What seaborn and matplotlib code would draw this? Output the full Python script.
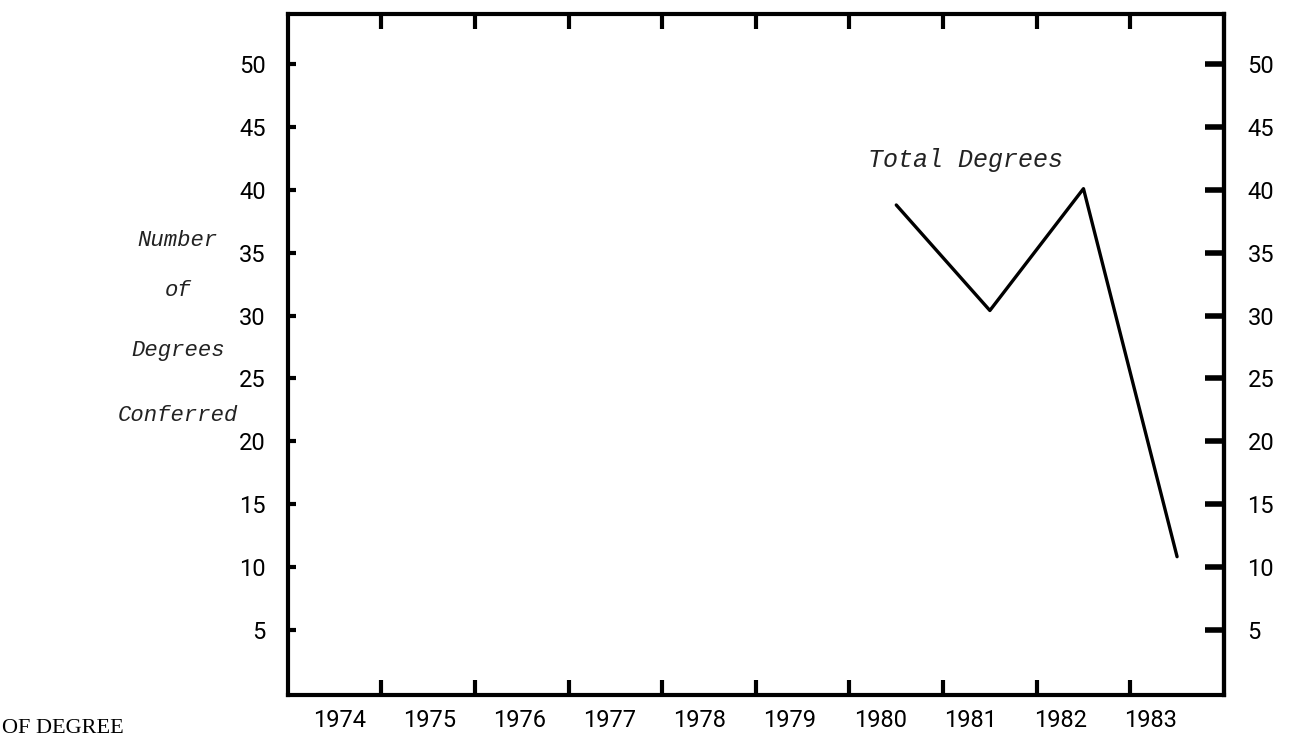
import matplotlib
matplotlib.use("Agg")
import numpy as np
import pandas as pd
import matplotlib.pyplot as plt
import seaborn as sns

# values
years = [1980, 1981, 1982, 1983]
total_degrees = [38.8, 30.4, 40.1, 10.8]
axis_years = list(range(1974, 1984))
y_ticks = [5, 10, 15, 20, 25, 30, 35, 40, 45, 50]
ylabel_lines = ["Number", "of", "Degrees", "Conferred"]

sns.set_theme(style="ticks")
plt.rcParams["font.family"] = ["Roboto", "DejaVu Sans"]

W, H = 1291, 740
fig = plt.figure(figsize=(W / 100, H / 100), dpi=100)
ax = fig.add_axes([0.223, 0.061, 0.725, 0.92])

# each year is an interval [year, year+1]; points sit in its middle
df = pd.DataFrame({"year": np.array(years) + 0.5, "degrees": total_degrees})
sns.lineplot(data=df, x="year", y="degrees", color="black", linewidth=2.4, ax=ax)

ax.set_xlim(axis_years[0], axis_years[-1] + 1)
ax.set_ylim(-0.2, 54.0)
ax.set_xlabel("")
ax.set_ylabel("")

for side in ["left", "right", "top", "bottom"]:
    ax.spines[side].set_linewidth(3)
    ax.spines[side].set_color("black")

# year boundaries as ticks, year names centred between them
ax.set_xticks(axis_years[1:])
ax.set_xticklabels([])
ax.tick_params(axis="x", which="major", direction="in", length=11, width=3,
               top=True, bottom=True, color="black")
label_pos = axis_years[0] + 0.55 + (np.array(axis_years) - axis_years[0]) * 0.963
ax.set_xticks(label_pos, minor=True)
ax.set_xticklabels([str(y) for y in axis_years], minor=True)
ax.tick_params(axis="x", which="minor", length=0, pad=10, labelsize=17,
               labelcolor="black")

ax.set_yticks(y_ticks)
ax.set_yticklabels([str(v) for v in y_ticks])
ax.tick_params(axis="y", which="major", direction="in", length=6, width=3,
               pad=16, labelsize=17, labelcolor="black", color="black")

sec = ax.secondary_yaxis("right")
sec.set_yticks(y_ticks)
sec.set_yticklabels([str(v) for v in y_ticks])
sec.tick_params(direction="in", length=14, width=4, pad=17, labelsize=17,
                labelcolor="black", color="black")
sec.spines["right"].set_linewidth(3)

ax.text(1981.24, 42.4, "Total Degrees", ha="center", va="center",
        fontsize=18, style="italic", family="Liberation Mono", color="#222222")

ypix = [240, 290, 350, 415]
for line, yp in zip(ylabel_lines, ypix):
    fig.text(178 / W, 1 - yp / H, line, ha="center", va="center",
             fontsize=16, style="italic", family="Liberation Mono", color="#222222")

# bit of a caption at the page edge
fig.text(2 / W, 2 / H, "OF DEGREE", ha="left", va="bottom",
         fontsize=16, family="Liberation Serif", color="black")

fig.savefig("out.png", dpi=100)
plt.close(fig)
